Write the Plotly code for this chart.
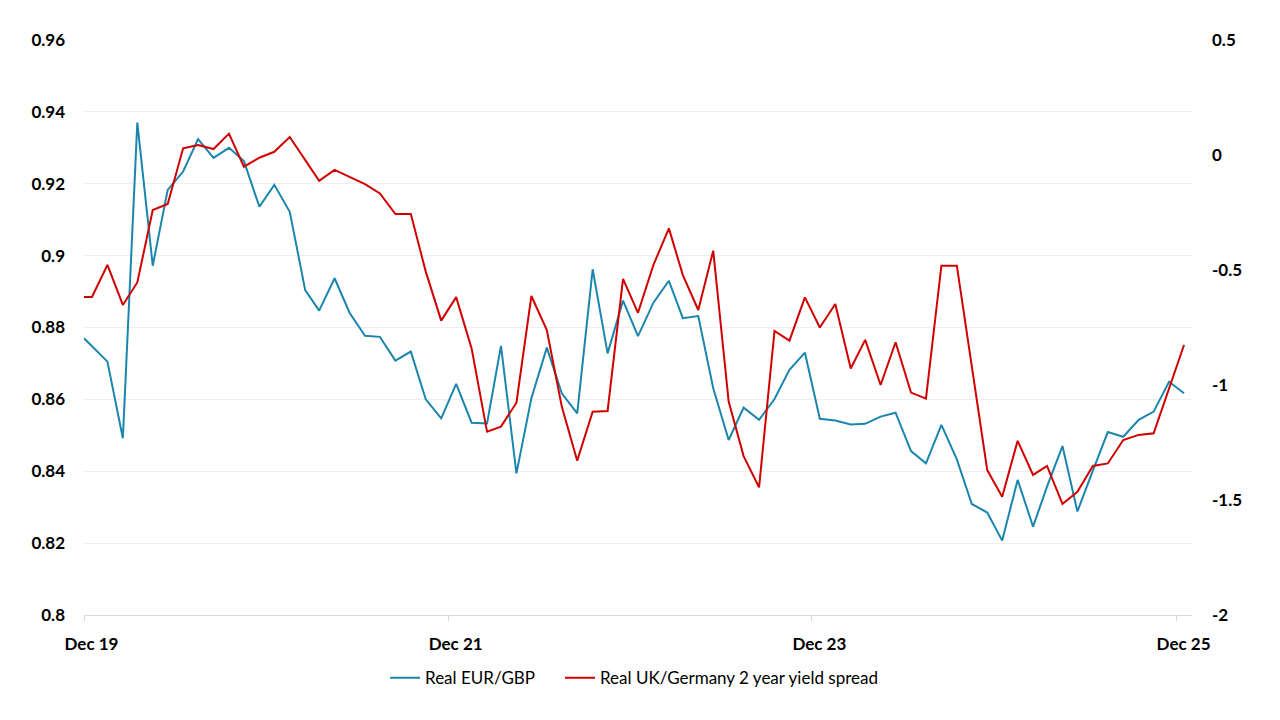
#######
# Real EUR/GBP vs real UK/Germany 2 year yield spread
# left axis: EUR/GBP, right axis: yield spread
######

import pandas as pd
import plotly.graph_objs as go

# first point sits on the axis start, then monthly readings
dates = ["2019-12-01"] + [d.strftime("%Y-%m-%d") for d in
                          pd.date_range("2019-12-17", periods=73, freq=pd.DateOffset(months=1))]

eur_gbp = [0.877, 0.8747, 0.8705, 0.8492, 0.937, 0.8972, 0.9183, 0.9234, 0.9324, 0.9272,
           0.930, 0.9263, 0.9136, 0.9197, 0.9122, 0.8904, 0.8847, 0.8937, 0.8841, 0.8777,
           0.8774, 0.8708, 0.8733, 0.860, 0.8547, 0.8643, 0.8535, 0.8533, 0.8749, 0.8394,
           0.8603, 0.8744, 0.8617, 0.8561, 0.8962, 0.8728, 0.8875, 0.8776, 0.8869, 0.893,
           0.8826, 0.8832, 0.8631, 0.8487, 0.8577, 0.8543, 0.8601, 0.8682, 0.8730, 0.8546,
           0.8541, 0.8530, 0.8532, 0.8552, 0.8563, 0.8456, 0.8422, 0.8529, 0.8433, 0.8309,
           0.8285, 0.8207, 0.8376, 0.8246, 0.8357, 0.847, 0.8288, 0.8402, 0.8509, 0.8496,
           0.8543, 0.8566, 0.8649, 0.8617]

spread = [-0.617, -0.617, -0.478, -0.652, -0.554, -0.239, -0.213, 0.029, 0.043, 0.026,
          0.093, -0.051, -0.012, 0.014, 0.078, -0.019, -0.112, -0.065, -0.094, -0.127,
          -0.167, -0.257, -0.257, -0.507, -0.720, -0.618, -0.841, -1.203, -1.181, -1.077,
          -0.613, -0.761, -1.094, -1.329, -1.116, -1.113, -0.539, -0.686, -0.478, -0.319,
          -0.522, -0.674, -0.416, -1.072, -1.309, -1.445, -0.765, -0.807, -0.619, -0.750,
          -0.648, -0.928, -0.804, -1.0, -0.814, -1.033, -1.059, -0.481, -0.481, -0.920,
          -1.370, -1.486, -1.243, -1.391, -1.352, -1.517, -1.464, -1.352, -1.341, -1.239,
          -1.217, -1.210, -1.014, -0.826]

# x labels (Excel puts them a bit right of the tick)
label_dates = ["2019-12-16", "2021-12-16", "2023-12-16", "2025-12-16"]
label_text = ["Dec 19", "Dec 21", "Dec 23", "Dec 25"]

# right axis labels with a plain hyphen like the original
spread_ticks = [-2, -1.5, -1, -0.5, 0, 0.5]
spread_text = ["-2", "-1.5", "-1", "-0.5", "0", "0.5"]

font_name = "Lato, Open Sans, Arial, sans-serif"
tick_font = dict(family=font_name, size=17, color="black", weight="bold")
legend_font = dict(family=font_name, size=17, color="black")

data = [
    go.Scatter(x=dates, y=eur_gbp, mode="lines", name="Real EUR/GBP",
               line=dict(color="#1b86ad", width=2), legend="legend"),
    go.Scatter(x=dates, y=spread, mode="lines", name="Real UK/Germany 2 year yield spread",
               line=dict(color="#d10000", width=2), yaxis="y2", legend="legend2"),
]

# the page body has an 8px margin, so margins are trimmed by 8 on the left/top
# one legend per series so the gap between them can be set like in Excel
layout = go.Layout(
    width=1280, height=720,
    paper_bgcolor="white", plot_bgcolor="white",
    margin=dict(l=76, r=96, t=32, b=113),
    showlegend=True,
    legend=dict(orientation="h", x=0.2717, xanchor="left", y=-0.11, yanchor="middle",
                font=legend_font, itemwidth=30),
    legend2=dict(orientation="h", x=0.4296, xanchor="left", y=-0.11, yanchor="middle",
                 font=legend_font, itemwidth=30),
    xaxis=dict(type="date", range=["2019-12-01", "2026-01-02"], automargin=False,
               tickvals=label_dates, ticktext=label_text, ticks="",
               tickfont=tick_font, ticklabelstandoff=14,
               showgrid=False, showline=True, linecolor="#d9d9d9", linewidth=1,
               minor=dict(tick0="2019-12-01", dtick="M24", ticks="outside",
                          ticklen=5, tickcolor="#d9d9d9", showgrid=False)),
    yaxis=dict(range=[0.8, 0.96], dtick=0.02, tickformat="~g", automargin=False,
               tickfont=tick_font, ticklabelstandoff=18,
               showgrid=True, gridcolor="#efefef", zeroline=False),
    yaxis2=dict(range=[-2, 0.5], tickvals=spread_ticks, ticktext=spread_text,
                overlaying="y", side="right", automargin=False,
                tickfont=tick_font, ticklabelstandoff=19,
                showgrid=False, zeroline=False),
)

fig = go.Figure(data=data, layout=layout)
fig.write_html("out.html")
